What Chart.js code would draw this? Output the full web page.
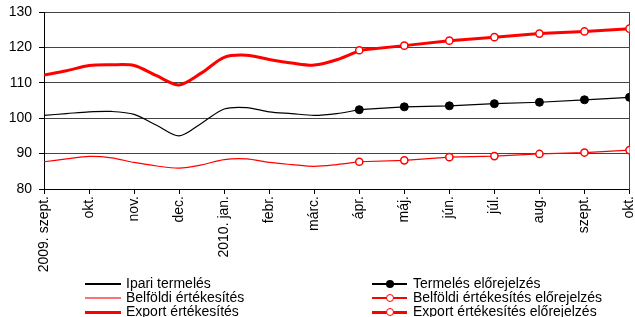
<!DOCTYPE html>
<html>
<head>
<meta charset="utf-8">
<script src="https://cdn.jsdelivr.net/npm/chart.js@4.4.1/dist/chart.umd.min.js"></script>
<style>
  html, body { margin: 0; padding: 0; background: #fff; }
  #wrap { position: relative; width: 635px; height: 317px; overflow: hidden; font-family: "Liberation Sans", Arial, sans-serif; }
  canvas { position: absolute; left: 0; top: 0; }
  .lg { position: absolute; font-size: 14px; line-height: 14px; color: #000; white-space: nowrap; }
  .ln { position: absolute; }
  .mk { position: absolute; border-radius: 50%; box-sizing: border-box; }
</style>
</head>
<body>
<div id="wrap">
  <canvas id="c" width="635" height="317"></canvas>
  <div id="legend"></div>
</div>
<script>
// ---- data ----
const monthLabels = ['2009. szept.','okt.','nov.','dec.','2010. jan.','febr.','márc.','ápr.','máj.','jún.','júl.','aug.','szept.','okt.'];
// historical series, half-month steps from 2009 szept. to 2010 ápr.
const histStep = 0.5;
const ipariTermeles = [100.8,101.3,101.8,101.9,101.1,98.0,95.0,98.6,102.6,103.0,101.8,101.3,100.8,101.3,102.4];
const belfoldiErtekesites = [87.7,88.5,89.2,88.8,87.5,86.5,85.9,86.8,88.3,88.5,87.5,86.9,86.4,86.9,87.7];
const exportErtekesites = [112.2,113.4,114.9,115.1,114.9,112.0,109.4,112.8,117.2,117.8,116.6,115.6,115.0,116.5,119.1];
// forecasts, monthly from 2010 ápr. (index 7) to okt. (index 13)
const forecastStart = 7;
const termelesElorejelzes = [102.4,103.2,103.5,104.1,104.5,105.2,105.9];
const belfoldiElorejelzes = [87.7,88.1,89.0,89.3,89.9,90.3,91.0];
const exportElorejelzes = [119.2,120.5,121.9,122.9,123.9,124.5,125.3];
const yTicks = [80,90,100,110,120,130];

const hist = arr => arr.map((v,i) => ({x: i*histStep, y: v}));
const fc = arr => arr.map((v,i) => ({x: forecastStart + i, y: v}));

Chart.defaults.font.family = '"Liberation Sans", Arial, sans-serif';
Chart.defaults.font.size = 14;
Chart.defaults.color = '#000';

const target = {left: 44, right: 630, top: 12, bottom: 189};
const noPad = s => { s.paddingLeft = 0; s.paddingRight = 0; s.paddingTop = 0; s.paddingBottom = 0; };

const chart = new Chart(document.getElementById('c'), {
  type: 'line',
  data: {
    datasets: [
      {label:'Ipari termelés', data: hist(ipariTermeles), borderColor:'#000', borderWidth:1.2, pointRadius:0, tension:0.3, order:2},
      {label:'Belföldi értékesítés', data: hist(belfoldiErtekesites), borderColor:'#ff0000', borderWidth:1.2, pointRadius:0, tension:0.3, order:2},
      {label:'Export értékesítés', data: hist(exportErtekesites), borderColor:'#ff0000', borderWidth:3, pointRadius:0, tension:0.3, order:2},
      {label:'Termelés előrejelzés', data: fc(termelesElorejelzes), borderColor:'#000', borderWidth:1.2, pointRadius:4, pointBackgroundColor:'#000', pointBorderColor:'#000', pointBorderWidth:1, tension:0, order:1},
      {label:'Belföldi értékesítés előrejelzés', data: fc(belfoldiElorejelzes), borderColor:'#ff0000', borderWidth:1.2, pointRadius:3.6, pointBackgroundColor:'#fff', pointBorderColor:'#ff0000', pointBorderWidth:1.5, tension:0, order:1},
      {label:'Export értékesítés előrejelzés', data: fc(exportElorejelzes), borderColor:'#ff0000', borderWidth:3, pointRadius:3.6, pointBackgroundColor:'#fff', pointBorderColor:'#ff0000', pointBorderWidth:1.5, tension:0, order:1}
    ]
  },
  options: {
    responsive: false,
    animation: false,
    devicePixelRatio: 1,
    layout: { padding: { top: 12, right: 5, left: 0, bottom: 0 } },
    plugins: { legend: { display: false }, tooltip: { enabled: false } },
    scales: {
      x: {
        type: 'linear', min: 0, max: monthLabels.length - 1,
        afterBuildTicks: s => { s.ticks = monthLabels.map((_, i) => ({value: i})); },
        afterFit: s => { s.height = 128; noPad(s); },
        ticks: { autoSkip: false, minRotation: 90, maxRotation: 90, padding: 2,
                 callback: v => monthLabels[v] },
        grid: { drawOnChartArea: false, drawTicks: true, tickLength: 5, tickColor: '#000' },
        border: { color: '#000', width: 1 }
      },
      y: {
        min: 80, max: 130,
        afterBuildTicks: s => { s.ticks = yTicks.map(v => ({value: v})); },
        afterFit: s => { s.width = 44; noPad(s); },
        ticks: { padding: 7 },
        grid: { color: '#444', lineWidth: 1, tickLength: 5, tickColor: '#000' },
        border: { color: '#000', width: 1 }
      },
      y2: {
        position: 'right', min: 80, max: 130,
        afterFit: s => { s.width = 0; noPad(s); },
        ticks: { display: false },
        grid: { drawOnChartArea: false, drawTicks: false },
        border: { color: '#444', width: 1 }
      }
    }
  }
});

// align the plot area with the reference
for (let k = 0; k < 3; k++) {
  const a = chart.chartArea, p = chart.options.layout.padding;
  p.left += target.left - a.left;
  p.top += target.top - a.top;
  p.right += a.right - target.right;
  p.bottom += a.bottom - target.bottom;
  chart.update();
}

// ---- legend ----
const legendItems = [
  {text:'Ipari termelés', col:0, row:0, color:'#000', w:1.2, marker:null},
  {text:'Belföldi értékesítés', col:0, row:1, color:'#ff7070', w:1.5, marker:null},
  {text:'Export értékesítés', col:0, row:2, color:'#ff0000', w:3, marker:null},
  {text:'Termelés előrejelzés', col:1, row:0, color:'#000', w:1.2, marker:'fill'},
  {text:'Belföldi értékesítés előrejelzés', col:1, row:1, color:'#ff0000', w:1.2, marker:'open'},
  {text:'Export értékesítés előrejelzés', col:1, row:2, color:'#ff0000', w:3, marker:'open'}
];
const colX = [{l0:85, l1:121, t:126}, {l0:372, l1:407, t:413}];
const rowY = [284, 298, 312];
const lg = document.getElementById('legend');
legendItems.forEach(it => {
  const c = colX[it.col], cy = rowY[it.row];
  const ln = document.createElement('div');
  ln.className = 'ln';
  ln.style.left = c.l0 + 'px'; ln.style.width = (c.l1 - c.l0) + 'px';
  ln.style.top = (cy - it.w/2) + 'px'; ln.style.height = it.w + 'px';
  ln.style.background = it.color;
  lg.appendChild(ln);
  if (it.marker) {
    const m = document.createElement('div');
    m.className = 'mk';
    const d = 8;
    const mx = (c.l0 + c.l1) / 2;
    m.style.left = (mx - d/2) + 'px'; m.style.top = (cy - d/2) + 'px';
    m.style.width = d + 'px'; m.style.height = d + 'px';
    if (it.marker === 'fill') { m.style.background = '#000'; }
    else { m.style.background = '#fff'; m.style.border = '1.5px solid #ff0000'; }
    lg.appendChild(m);
  }
  const t = document.createElement('div');
  t.className = 'lg';
  t.textContent = it.text;
  t.style.left = c.t + 'px'; t.style.top = (cy - 8) + 'px';
  lg.appendChild(t);
});
</script>
</body>
</html>
